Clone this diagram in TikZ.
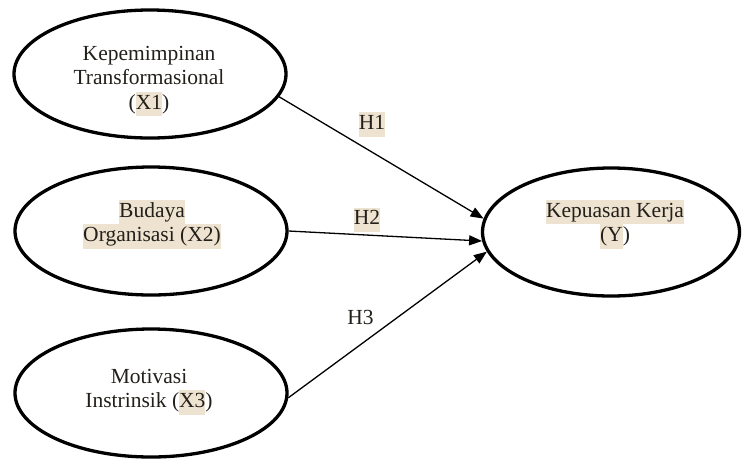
\documentclass[tikz,border=0pt]{standalone}
\usepackage{fontspec}
\setmainfont{Liberation Serif}
\usetikzlibrary{arrows.meta,shapes.geometric}
\definecolor{hlcol}{HTML}{EDE3D0}
\definecolor{txtcol}{HTML}{231F1A}
\newcommand{\hlt}[1]{{\setlength{\fboxsep}{0pt}\colorbox{hlcol}{\strut #1}}}
\begin{document}
\begin{tikzpicture}[x=1pt,y=-1pt,
  oval/.style={ellipse,draw=black,line width=3.3pt,inner sep=0pt,minimum width=272pt,minimum height=128pt},
  ovaly/.style={oval,minimum width=257pt},
  lbl/.style={align=center,inner sep=0pt,text=txtcol,font=\fontsize{21.5}{24.5}\selectfont},
  conn/.style={line width=1.3pt,-{Triangle[length=13pt,width=10pt]}}]
\useasboundingbox (0,0) rectangle (743,459);
\node[oval] (e1) at (150,74) {};
\node[oval] (e2) at (151,231) {};
\node[oval] (e3) at (151,393) {};
\node[ovaly] (ey) at (611,232) {};
\node[lbl] (t1) at (149,79.6) {\strut Kepemimpinan\\\strut Transformasional\\\strut(\hlt{X1})};
\node[lbl] (t2) at (152,224.4) {\hlt{Budaya}\\\hlt{Organisasi (X2)}};
\node[lbl] (t3) at (149,390.4) {\strut Motivasi\\\strut Instrinsik (\hlt{X3})};
\node[lbl] (ty) at (615,224.4) {\hlt{Kepuasan Kerja}\\\strut\hlt{(Y}\strut)};
\draw[conn] (e1.-10.2) -- (ey.174.7);
\draw[conn] (e2.0) -- (ey.184.8);
\draw[conn] (e3.-2) -- (ey.189.7);
\node[lbl] (h1) at (372,124.5) {\hlt{H1}};
\node[lbl] (h2) at (367,220) {\hlt{H2}};
\node[lbl] (h3) at (360.5,320) {\strut H3};
\end{tikzpicture}
\end{document}
